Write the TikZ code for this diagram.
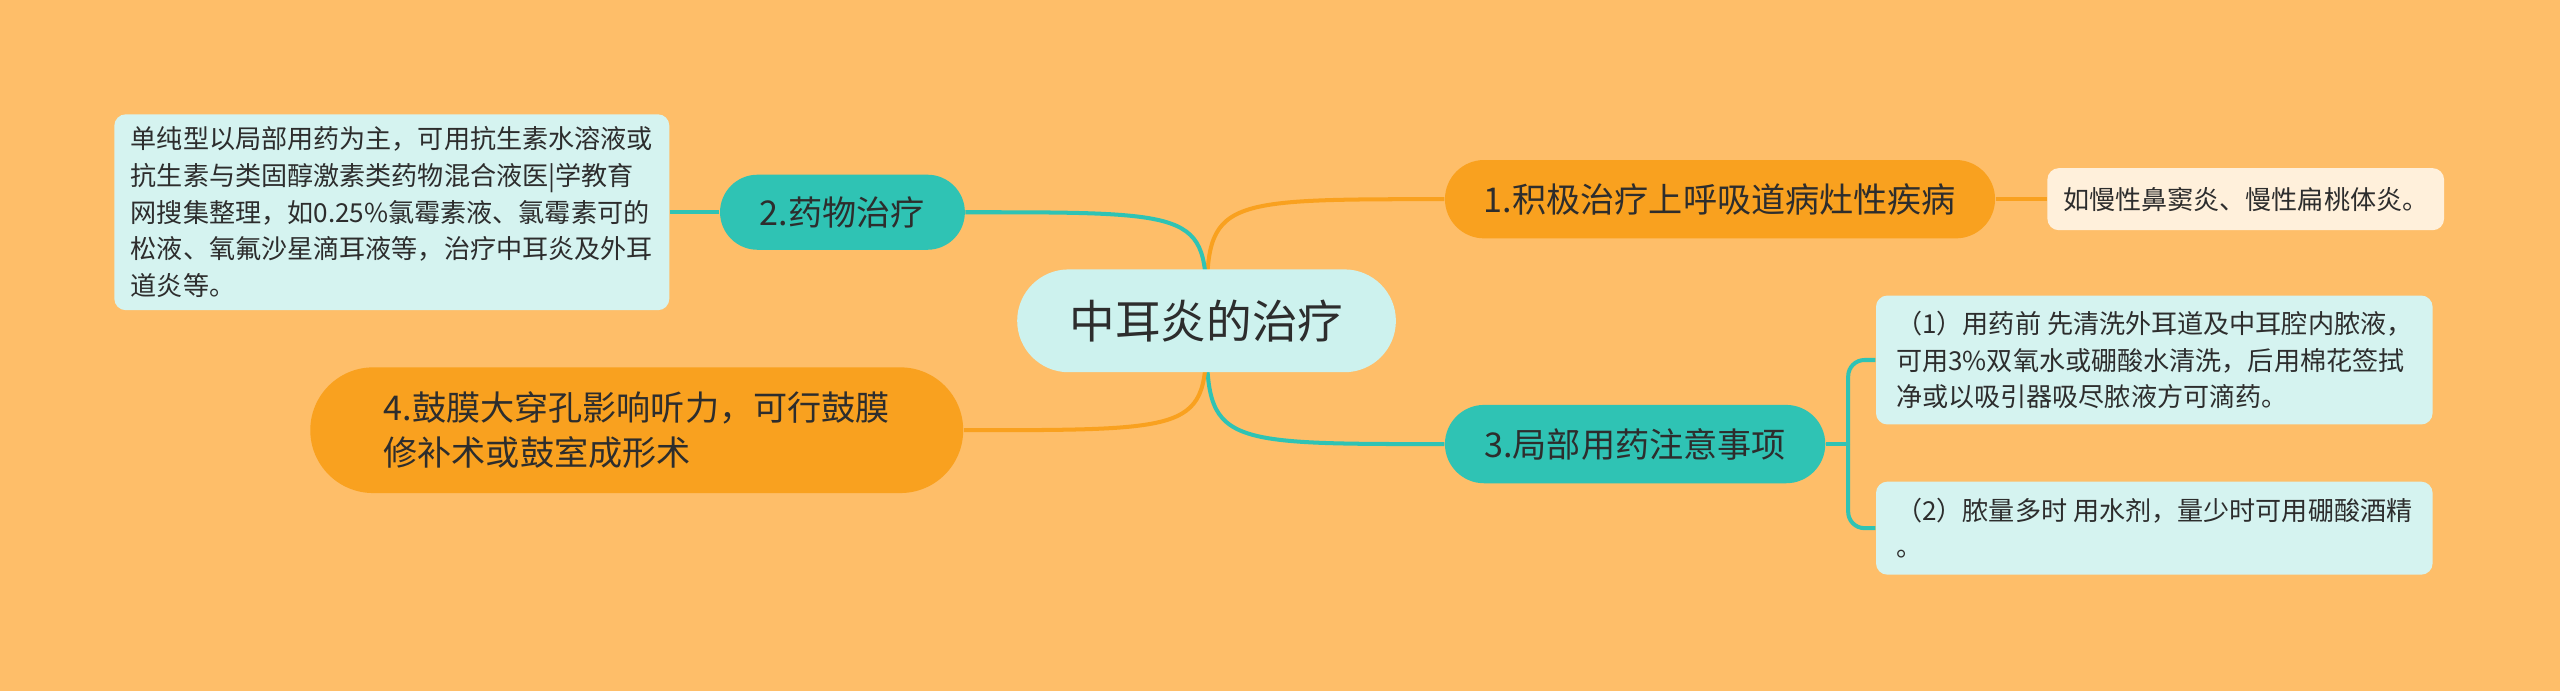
\documentclass[tikz,border=0pt]{standalone}
\usepackage{fontspec}
\setmainfont{Noto Sans CJK SC}
\usetikzlibrary{backgrounds}
\definecolor{bgorange}{RGB}{254,190,105}
\definecolor{nodeorange}{RGB}{249,161,31}
\definecolor{nodeteal}{RGB}{47,195,180}
\definecolor{leafcyan}{RGB}{213,243,240}
\definecolor{rootcyan}{RGB}{205,242,238}
\definecolor{leafcream}{RGB}{255,240,219}
\definecolor{inkgray}{RGB}{45,45,45}
\begin{document}
\begin{tikzpicture}[x=0.02cm,y=-0.02cm,
  rootnode/.style={fill=rootcyan,rounded corners=0.63cm,minimum width=4.64cm,minimum height=1.26cm,inner sep=0pt,text=inkgray,font=\fontsize{15.9}{18}\selectfont},
  topicnode/.style={rounded corners=0.48cm,minimum height=0.96cm,inner sep=0pt,text=inkgray,align=left,font=\fontsize{11.9}{15.9}\selectfont},
  leafnode/.style={rounded corners=0.14cm,inner sep=0pt,text=inkgray,align=left,font=\fontsize{9.1}{12.8}\selectfont},
  orangeline/.style={draw=nodeorange,line width=1.4pt},
  tealline/.style={draw=nodeteal,line width=1.4pt}]
\useasboundingbox (0,0) rectangle (1568,423.2);
\node[rootnode] (root) at (739,196.5) {中耳炎的治疗};
\node[topicnode,fill=nodeorange,minimum width=6.74cm] (topic1) at (1053.5,122) {1.积极治疗上呼吸道病灶性疾病};
\node[leafnode,fill=leafcream,minimum width=4.86cm,minimum height=0.76cm] (leaf1) at (1375.5,122) {如慢性鼻窦炎、慢性扁桃体炎。};
\node[topicnode,fill=nodeteal,minimum width=3cm,minimum height=0.92cm,rounded corners=0.46cm] (topic2) at (516,130) {2.药物治疗};
\node[leafnode,fill=leafcyan,minimum width=6.8cm,minimum height=2.4cm] (leaf2) at (240,130) {单纯型以局部用药为主，可用抗生素水溶液或\\抗生素与类固醇激素类药物混合液医|学教育\\网搜集整理，如0.25\%氯霉素液、氯霉素可的\\松液、氧氟沙星滴耳液等，治疗中耳炎及外耳\\道炎等。};
\node[topicnode,fill=nodeteal,minimum width=4.66cm] (topic3) at (1001.5,272) {3.局部用药注意事项};
\node[leafnode,fill=leafcyan,minimum width=6.82cm,minimum height=1.58cm] (leaf3a) at (1319.5,220.5) {（1）用药前 先清洗外耳道及中耳腔内脓液，\\可用3\%双氧水或硼酸水清洗，后用棉花签拭\\净或以吸引器吸尽脓液方可滴药。};
\node[leafnode,fill=leafcyan,minimum width=6.82cm,minimum height=1.14cm] (leaf3b) at (1319.5,323.5) {（2）脓量多时 用水剂，量少时可用硼酸酒精\\。};
\node[topicnode,fill=nodeorange,minimum width=8cm,minimum height=1.54cm,rounded corners=0.77cm] (topic4) at (390,263.5) {4.鼓膜大穿孔影响听力，可行鼓膜\\修补术或鼓室成形术};
\coordinate (fork3) at (1132,272);
\begin{pgfonlayer}{background}
\fill[bgorange] (0,0) rectangle (1568,423.2);
% branches from the root
\draw[orangeline] (root.center) .. controls (root.center |- topic1.west) .. (topic1.west);
\draw[tealline] (root.center) .. controls (root.center |- topic2.east) .. (topic2.east);
\draw[tealline] (root.center) .. controls (root.center |- topic3.west) .. (topic3.west);
\draw[orangeline] (root.center) .. controls (root.center |- topic4.east) .. (topic4.east);
% leaves
\draw[orangeline] (topic1.east) -- (leaf1.west);
\draw[tealline] (topic2.west) -- (leaf2.east);
\draw[tealline] (topic3.east) -- (fork3);
\draw[tealline,rounded corners=0.2cm] (fork3) |- (leaf3a.west);
\draw[tealline,rounded corners=0.2cm] (fork3) |- (leaf3b.west);
\end{pgfonlayer}
\end{tikzpicture}
\end{document}
